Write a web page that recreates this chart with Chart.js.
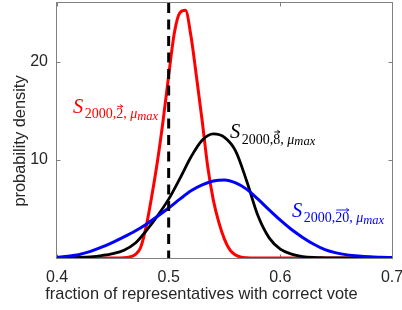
<!DOCTYPE html>
<html>
<head>
<meta charset="utf-8">
<script src="https://cdn.jsdelivr.net/npm/chart.js@4"></script>
<style>
    html, body { margin: 0; padding: 0; background: #fff; }
</style>
</head>
<body>
<canvas id="densityChart" width="402" height="310"></canvas>
<script>
// fraction of representatives with correct vote (x values)
const fractionGrid = [0.40, 0.41, 0.42, 0.43, 0.44, 0.45, 0.46, 0.47, 0.48, 0.49,
                      0.50, 0.51, 0.52, 0.53, 0.54, 0.55, 0.56, 0.57, 0.58, 0.59,
                      0.60, 0.61, 0.62, 0.63, 0.64, 0.65, 0.66, 0.67, 0.68, 0.69, 0.70];
const redFractions = [0.40, 0.45, 0.46, 0.465, 0.47, 0.475, 0.48, 0.485, 0.49, 0.495,
                      0.50, 0.505, 0.51, 0.515, 0.52, 0.525, 0.53, 0.535, 0.54, 0.545,
                      0.55, 0.555, 0.56, 0.565, 0.57, 0.575, 0.58, 0.60, 0.70];

// probability density
const redDensity   = [0, 0, 0.02, 0.1, 0.35, 1.1, 3.3, 6.4, 9.9, 14.0,
                      18.6, 22.9, 25.0, 25.25, 22.6, 18.4, 14.0, 9.3, 5.9, 3.6,
                      1.9, 0.8, 0.3, 0.08, 0.02, 0, 0, 0, 0];
const blackDensity = [0, 0.01, 0.05, 0.12, 0.25, 0.45, 0.8, 1.5, 2.8, 4.3,
                      6.0, 8.1, 10.3, 12.0, 12.65, 12.3, 10.9, 7.8, 4.3, 2.05,
                      0.9, 0.4, 0.15, 0.05, 0.02, 0, 0, 0, 0, 0, 0];
const blueDensity  = [0.07, 0.18, 0.36, 0.68, 1.1, 1.6, 2.15, 2.75, 3.45, 4.25,
                      5.1, 6.0, 6.85, 7.45, 7.85, 7.95, 7.65, 7.0, 6.0, 4.9,
                      3.85, 2.9, 2.1, 1.4, 0.85, 0.52, 0.32, 0.2, 0.12, 0.08, 0.05];

const thresholdFraction = 0.5;
const xTicks = [0.4, 0.5, 0.6, 0.7];
const yTicks = [10, 20];

// curve labels: S_{2000, vec, mu_max}
const labelVectors = ['2', '8', '20'];
const labelX = [0.4143, 0.555, 0.6105];
const labelY = [14.8, 12.19, 4.23];
const labelColors = ['#ff0000', '#000000', '#0000ff'];

const sansFont = '"Liberation Sans", Arial, Helvetica, sans-serif';
const serifFont = '"Liberation Serif", "Times New Roman", serif';

function toPoints(xs, ys) {
    return xs.map((x, i) => ({ x: x, y: ys[i] }));
}

// draws one label like S_{2000,2->,mu_max}
function drawCurveLabel(ctx, x, y, color, vec) {
    ctx.save();
    ctx.fillStyle = color;
    ctx.strokeStyle = color;
    ctx.textBaseline = 'alphabetic';
    ctx.textAlign = 'left';

    ctx.font = 'italic 20.5px ' + serifFont;
    ctx.fillText('S', x, y);
    let cx = x + ctx.measureText('S').width + 1.5;
    const sy = y + 5.5;

    ctx.font = '14px ' + serifFont;
    ctx.fillText('2000,', cx, sy);
    cx += ctx.measureText('2000,').width;

    // vector digits with arrow accent
    const vw = ctx.measureText(vec).width;
    ctx.fillText(vec, cx, sy);
    const ay = sy - 12;
    ctx.lineWidth = 0.9;
    ctx.beginPath();
    ctx.moveTo(cx + 1, ay);
    ctx.lineTo(cx + vw - 0.5, ay);
    ctx.moveTo(cx + vw - 3, ay - 1.8);
    ctx.lineTo(cx + vw - 0.5, ay);
    ctx.lineTo(cx + vw - 3, ay + 1.8);
    ctx.stroke();
    cx += vw;

    ctx.fillText(', ', cx, sy);
    cx += ctx.measureText(', ').width;

    ctx.font = 'italic 14px ' + serifFont;
    ctx.fillText('\u03BC', cx, sy);
    cx += ctx.measureText('\u03BC').width;

    ctx.font = 'italic 12.5px ' + serifFont;
    ctx.fillText('max', cx, y + 7);
    ctx.restore();
}

// box, inward ticks, axis titles and curve labels
const framePlugin = {
    id: 'frame',
    beforeDatasetsDraw(chart) {
        const { ctx, chartArea: a, scales: { x, y } } = chart;
        const l = a.left - 0.5, r = a.right + 0.5, t = a.top - 0.5, b = a.bottom + 0.5;
        ctx.save();
        ctx.strokeStyle = '#808080';
        ctx.lineWidth = 1;
        ctx.strokeRect(l, t, r - l, b - t);
        ctx.beginPath();
        xTicks.forEach(v => {
            const px = Math.round(x.getPixelForValue(v)) + 0.5;
            ctx.moveTo(px, b); ctx.lineTo(px, b - 4);
            ctx.moveTo(px, t); ctx.lineTo(px, t + 4);
        });
        yTicks.forEach(v => {
            const py = Math.round(y.getPixelForValue(v)) + 0.5;
            ctx.moveTo(l, py); ctx.lineTo(l + 4, py);
            ctx.moveTo(r, py); ctx.lineTo(r - 4, py);
        });
        ctx.stroke();
        ctx.restore();
    },
    afterDraw(chart) {
        const { ctx, scales: { x, y } } = chart;
        ctx.save();
        ctx.fillStyle = '#262626';
        ctx.font = '16.4px ' + sansFont;
        ctx.textAlign = 'center';
        ctx.textBaseline = 'alphabetic';
        ctx.fillText('fraction of representatives with correct vote', 201.5, 298.5);
        ctx.translate(25, 141);
        ctx.rotate(-Math.PI / 2);
        ctx.fillText('probability density', 0, 0);
        ctx.restore();

        labelVectors.forEach((vec, i) => {
            drawCurveLabel(ctx, x.getPixelForValue(labelX[i]), y.getPixelForValue(labelY[i]),
                           labelColors[i], vec);
        });
    }
};

const ctx = document.getElementById('densityChart').getContext('2d');
new Chart(ctx, {
    type: 'line',
    data: {
        datasets: [
            {
                label: 'threshold',
                data: [{ x: thresholdFraction, y: 26 }, { x: thresholdFraction, y: 0 }],
                borderColor: '#000000',
                borderWidth: 3,
                borderDash: [10, 6.5],
                pointRadius: 0
            },
            {
                label: 'S 2000, 20',
                data: toPoints(fractionGrid, blueDensity),
                borderColor: '#0000ff',
                borderWidth: 3,
                pointRadius: 0,
                cubicInterpolationMode: 'monotone'
            },
            {
                label: 'S 2000, 8',
                data: toPoints(fractionGrid, blackDensity),
                borderColor: '#000000',
                borderWidth: 2.8,
                pointRadius: 0,
                cubicInterpolationMode: 'monotone'
            },
            {
                label: 'S 2000, 2',
                data: toPoints(redFractions, redDensity),
                borderColor: '#ff0000',
                borderWidth: 3,
                pointRadius: 0,
                cubicInterpolationMode: 'monotone'
            }
        ]
    },
    options: {
        responsive: false,
        animation: false,
        layout: { padding: { left: 0, right: 10, top: 3, bottom: 0 } },
        plugins: {
            legend: { display: false },
            tooltip: { enabled: false }
        },
        scales: {
            x: {
                type: 'linear',
                min: 0.4,
                max: 0.7,
                afterBuildTicks: s => { s.ticks = xTicks.map(v => ({ value: v })); },
                afterFit: s => { s.height = 52; s.paddingLeft = 0; s.paddingRight = 0; },
                grid: { display: false, drawTicks: false },
                border: { display: false },
                ticks: {
                    padding: 10,
                    color: '#262626',
                    maxRotation: 0,
                    autoSkip: false,
                    font: { family: sansFont, size: 16 },
                    callback: v => v.toFixed(1)
                }
            },
            y: {
                type: 'linear',
                min: 0,
                max: 26,
                afterBuildTicks: s => { s.ticks = yTicks.map(v => ({ value: v })); },
                afterFit: s => { s.width = 57; s.paddingTop = 0; s.paddingBottom = 0; },
                grid: { display: false, drawTicks: false },
                border: { display: false },
                ticks: {
                    padding: 9,
                    color: '#262626',
                    autoSkip: false,
                    font: { family: sansFont, size: 16 },
                    callback: v => String(v)
                }
            }
        }
    },
    plugins: [framePlugin]
});
</script>
</body>
</html>
